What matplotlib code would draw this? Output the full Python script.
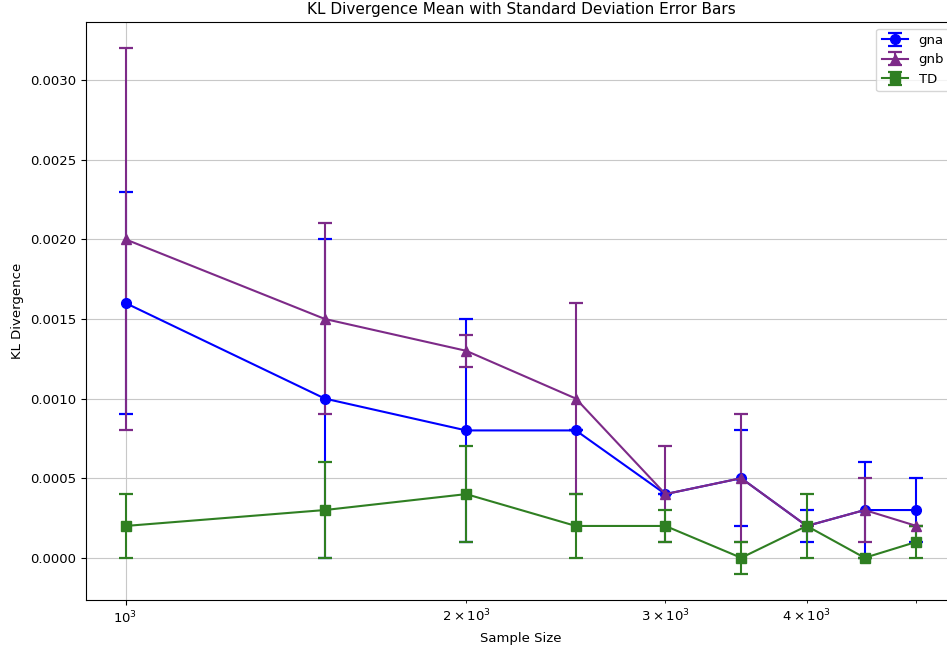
import numpy as np
from matplotlib import pyplot as plt

# Data
sample_sizes = [1000, 1500, 2000, 2500, 3000, 3500, 4000, 4500, 5000]

gna_mean = [0.0016, 0.0010, 0.0008, 0.0008, 0.0004, 0.0005, 0.0002, 0.0003, 0.0003]
gna_std = [0.0007, 0.0010, 0.0007, 0.0, 0.0, 0.0003, 0.0001, 0.0003, 0.0002]

gnb_mean = [0.0020, 0.0015, 0.0013, 0.0010, 0.0004, 0.0005, 0.0002, 0.0003, 0.0002]
gnb_std = [0.0012, 0.0006, 0.0001, 0.0006, 0.0003, 0.0004, 0.0, 0.0002, 0.0]

td_mean = [0.0002, 0.0003, 0.0004, 0.0002, 0.0002, 0.0, 0.0002, 0.0, 0.0001]
td_std = [0.0002, 0.0003, 0.0003, 0.0002, 0.0001, 0.0001, 0.0002, 0.0, 0.0001]

plt.rcParams['font.size'] = 9.5

fig = plt.figure(figsize=(9.47, 6.5), dpi=100)
# axes run a bit past the right edge, like the cropped reference
ax = fig.add_axes([86 / 947, 50 / 650, 870 / 947, 578 / 650])

ax.errorbar(sample_sizes, gna_mean, yerr=gna_std, fmt='-o', color='blue',
            capsize=5, capthick=1.6, markersize=7, label='gna')
ax.errorbar(sample_sizes, gnb_mean, yerr=gnb_std, fmt='-^', color='#7d2a88',
            capsize=5, capthick=1.6, markersize=7, label='gnb')
ax.errorbar(sample_sizes, td_mean, yerr=td_std, fmt='-s', color='#2f7f22',
            capsize=5, capthick=1.6, markersize=7, label='TD')

ax.set_xscale('log')
ax.set_xlabel('Sample Size')
ax.set_ylabel('KL Divergence')
ax.set_title('KL Divergence Mean with Standard Deviation Error Bars', fontsize=11)
ax.legend(loc='upper right')
ax.grid(True, color='#c8c8c8')

fig.savefig('out.png', dpi=100)
